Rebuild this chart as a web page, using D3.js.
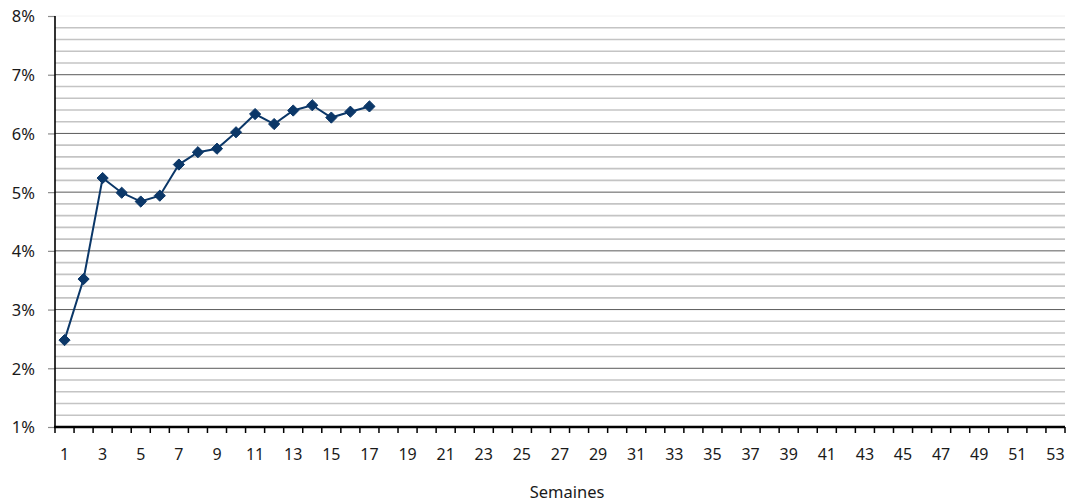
<!DOCTYPE html>
<html>
<head>
<meta charset="utf-8">
<script src="https://cdn.jsdelivr.net/npm/d3@7"></script>
<style>
  html, body { margin: 0; padding: 0; background: #fff; }
  svg text { font-family: "Noto Sans", Lato, sans-serif; fill: #1a1a1a; }
</style>
</head>
<body>
<svg id="chart" width="1068" height="502"></svg>
<script>
// Data
const weeks = d3.range(1, 54);               // categories: semaines 1..53
const seriesWeeks = d3.range(1, 18);         // weeks with data
const seriesValues = [2.48, 3.52, 5.24, 4.99, 4.84, 4.94, 5.47, 5.68, 5.74, 6.02, 6.33, 6.16, 6.39, 6.48, 6.27, 6.37, 6.46];
const yTickValues = [1, 2, 3, 4, 5, 6, 7, 8];
const yTickLabels = ["1%", "2%", "3%", "4%", "5%", "6%", "7%", "8%"];
const xTickLabels = weeks.filter(w => w % 2 === 1).map(String);
const xAxisTitle = "Semaines";

const svg = d3.select("#chart");
const margin = { left: 55, right: 3, top: 16, bottom: 75 };
const W = 1068, H = 502;

const x = d3.scaleBand().domain(weeks).range([margin.left, W - margin.right]).paddingInner(0).paddingOuter(0);
const y = d3.scaleLinear().domain([1, 8]).range([H - margin.bottom, margin.top]);

// minor gridlines every 0.2%
const minor = d3.range(1.2, 8, 0.2).filter(v => Math.abs(v - Math.round(v)) > 1e-6);
svg.append("g").selectAll("line").data(minor).join("line")
  .attr("x1", margin.left).attr("x2", W - margin.right)
  .attr("y1", d => y(d)).attr("y2", d => y(d))
  .attr("stroke", "#c4c4c4").attr("stroke-width", 1.6);

// major gridlines
svg.append("g").selectAll("line").data(yTickValues.filter(v => v > 1)).join("line")
  .attr("x1", margin.left).attr("x2", W - margin.right)
  .attr("y1", d => y(d)).attr("y2", d => y(d))
  .attr("stroke", d => d === 8 ? "#f2f2f2" : "#5a5a5a").attr("stroke-width", 1);

// Y axis
const yAxis = d3.axisLeft(y).tickValues(yTickValues)
  .tickFormat((d, i) => yTickLabels[i]).tickSize(7).tickPadding(13);
const gy = svg.append("g").attr("transform", `translate(${margin.left},0)`).call(yAxis);
gy.select(".domain").remove();
gy.selectAll(".tick line").attr("stroke", "#8c8c8c").attr("stroke-width", 1.2);
gy.selectAll(".tick text").attr("font-size", 16.5).attr("dy", "0.36em").style("fill", "#1a1a1a");
svg.append("line").attr("x1", margin.left).attr("x2", margin.left)
  .attr("y1", y(8)).attr("y2", y(1)).attr("stroke", "#000").attr("stroke-width", 1.6);

// X axis
const gx = svg.append("g").attr("transform", `translate(0,${y(1)})`);
gx.selectAll("line.tk").data(d3.range(0, weeks.length + 1)).join("line")
  .attr("class", "tk")
  .attr("x1", i => margin.left + i * x.step()).attr("x2", i => margin.left + i * x.step())
  .attr("y1", 0).attr("y2", 6).attr("stroke", "#000").attr("stroke-width", 1.5);
gx.append("line").attr("x1", margin.left - 1).attr("x2", W - margin.right)
  .attr("y1", 0).attr("y2", 0).attr("stroke", "#000").attr("stroke-width", 2.6);
gx.selectAll("text").data(xTickLabels).join("text")
  .attr("x", d => x(+d) + x.bandwidth() / 2).attr("y", 33)
  .attr("text-anchor", "middle").attr("font-size", 16).text(d => d);

svg.append("text").attr("x", 567).attr("y", 498).attr("text-anchor", "middle")
  .attr("font-size", 16.5).text(xAxisTitle);

// Series
const pts = seriesWeeks.map((w, i) => [x(w) + x.bandwidth() / 2, y(seriesValues[i])]);
svg.append("path").attr("d", d3.line()(pts))
  .attr("fill", "none").attr("stroke", "#0b3768").attr("stroke-width", 2);
svg.append("g").selectAll("path").data(pts).join("path")
  .attr("transform", d => `translate(${d[0]},${d[1]})`)
  .attr("d", d3.symbol(d3.symbolDiamond2, 80)())
  .attr("fill", "#0b3768").attr("stroke", "#0b3768").attr("stroke-width", 1);
</script>
</body>
</html>
